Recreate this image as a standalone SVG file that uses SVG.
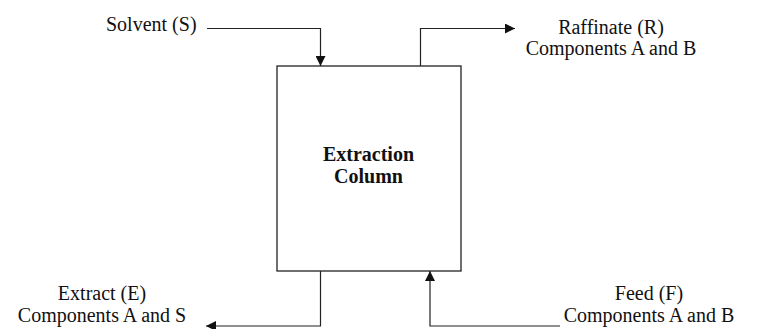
<svg xmlns="http://www.w3.org/2000/svg" width="757" height="329" viewBox="0 0 757 329">
<style>
text{font-family:"Liberation Serif","Times New Roman",serif;font-size:20px;fill:#111;}
.b{font-weight:bold;}
.ln{fill:none;stroke:#222;stroke-width:1.2;}
</style>
<defs>
<marker id="ah" viewBox="0 0 10 10" refX="10" refY="5" markerWidth="10" markerHeight="10" markerUnits="userSpaceOnUse" orient="auto">
<path d="M0,0 L10,5 L0,10 Z" fill="#111"/>
</marker>
</defs>
<rect width="757" height="329" fill="#fff"/>
<g id="column">
<rect x="277" y="66" width="184" height="205" fill="#fff" stroke="#222" stroke-width="1.3"/>
<text class="b" x="368.5" y="161" text-anchor="middle">Extraction</text>
<text class="b" x="368.5" y="183" text-anchor="middle">Column</text>
</g>
<g id="solvent"><text x="106" y="31">Solvent (S)</text></g>
<g id="raffinate">
<text x="611" y="34" text-anchor="middle">Raffinate (R)</text>
<text x="611" y="55" text-anchor="middle">Components A and B</text>
</g>
<g id="extract">
<text x="102" y="300" text-anchor="middle">Extract (E)</text>
<text x="102" y="322" text-anchor="middle">Components A and S</text>
</g>
<g id="feed">
<text x="649" y="300" text-anchor="middle">Feed (F)</text>
<text x="649" y="322" text-anchor="middle">Components A and B</text>
</g>
<g id="connectors">
<path class="ln" d="M207,28.5 H320.5 V66" marker-end="url(#ah)"/>
<path class="ln" d="M420.5,66 V28.5 H515" marker-end="url(#ah)"/>
<path class="ln" d="M320.5,271 V326 H206" marker-end="url(#ah)"/>
<path class="ln" d="M560,326 H430 V271" marker-end="url(#ah)"/>
</g>
</svg>
